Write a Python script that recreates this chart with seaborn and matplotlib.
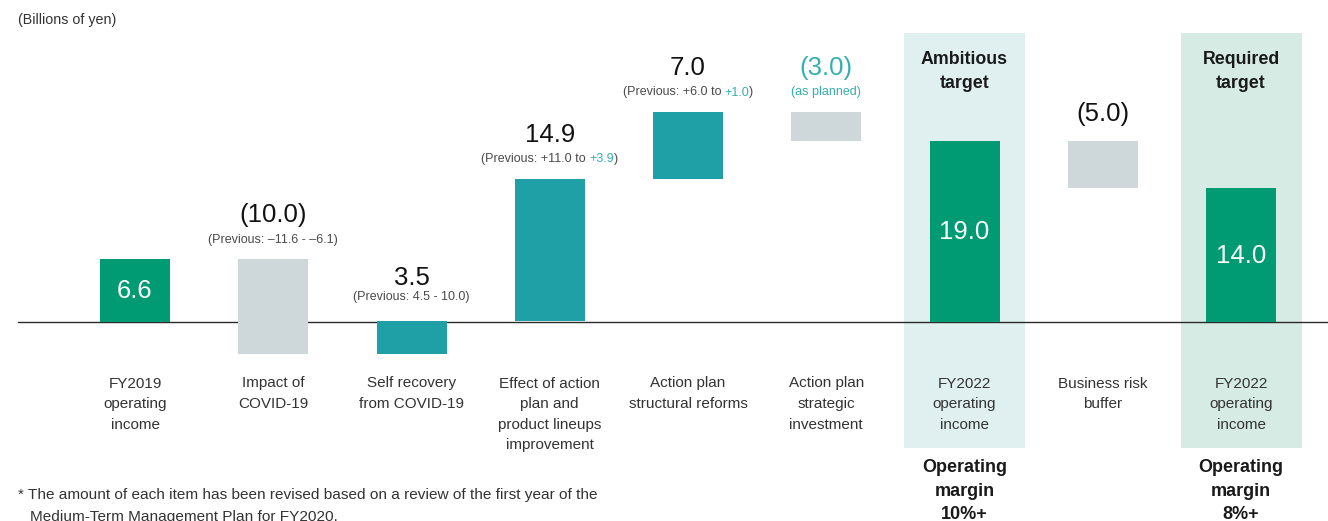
import matplotlib
matplotlib.use("Agg")
import matplotlib.pyplot as plt
import numpy as np
import pandas as pd
import seaborn as sns
from matplotlib.patches import Rectangle
from matplotlib.offsetbox import TextArea, HPacker, AnnotationBbox

# ---------------- data ----------------
steps = ["fy2019", "covid_impact", "self_recovery", "action_effect", "structural",
         "strategic", "fy2022_ambitious", "risk_buffer", "fy2022_required"]
step_labels = ["FY2019\noperating\nincome", "Impact of\nCOVID-19", "Self recovery\nfrom COVID-19",
               "Effect of action\nplan and\nproduct lineups\nimprovement",
               "Action plan\nstructural reforms", "Action plan\nstrategic\ninvestment",
               "FY2022\noperating\nincome", "Business risk\nbuffer", "FY2022\noperating\nincome"]
values = [6.6, -10.0, 3.5, 14.9, 7.0, -3.0, 19.0, -5.0, 14.0]
kinds = ["total", "minus", "plus", "plus", "plus", "minus", "total", "minus", "total"]
value_labels = ["6.6", "(10.0)", "3.5", "14.9", "7.0", "(3.0)", "19.0", "(5.0)", "14.0"]
value_label_teal = [False, False, False, False, False, True, False, False, False]
notes = [
    None,
    [("(Previous: \u201311.6 - \u20136.1)", "gray")],
    [("(Previous: 4.5 - 10.0)", "gray")],
    [("(Previous: +11.0 to ", "gray"), ("+3.9", "teal"), (")", "gray")],
    [("(Previous: +6.0 to ", "gray"), ("+1.0", "teal"), (")", "gray")],
    [("(as planned)", "teal")],
    None, None, None,
]
band_steps = ["fy2022_ambitious", "fy2022_required"]
band_titles = ["Ambitious\ntarget", "Required\ntarget"]
margin_texts = ["Operating\nmargin\n10%+", "Operating\nmargin\n8%+"]
unit_text = "(Billions of yen)"
footnote_lines = ["* The amount of each item has been revised based on a review of the first year of the",
                  "Medium-Term Management Plan for FY2020."]

# ---------------- style ----------------
colors = {"total": "#009B72", "plus": "#1FA0A6", "minus": "#CED7DA"}
band_colors = ["#E0F0F0", "#D6EBE4"]
text_colors = {"gray": "#4a4a4a", "teal": "#35AEB0"}

W, H = 1328, 521
PX_X0, PX_STEP = 135.0, 138.25
PX_Y0, PX_UNIT = 322.0, 9.55
PT = 0.72  # points per pixel at 100 dpi


def px2x(px):
    return (px - PX_X0) / PX_STEP


def py2v(py):
    return (PX_Y0 - py) / PX_UNIT


# waterfall geometry from values
bottoms, heights = [], []
run = 0.0
for v, k in zip(values, kinds):
    if k == "total":
        bottoms.append(0.0)
        heights.append(v)
        run = v
    else:
        new = run + v
        bottoms.append(min(run, new))
        heights.append(abs(v))
        run = new

sns.set_theme(style="white")
plt.rcParams["font.family"] = ["Liberation Sans", "DejaVu Sans"]

fig = plt.figure(figsize=(W / 100, H / 100), dpi=100)
ax = fig.add_axes([0, 0, 1, 1])

df = pd.DataFrame({"step": steps, "height": heights, "bottom": bottoms})
sns.barplot(data=df, x="step", y="height", order=steps, bottom=df["bottom"].to_numpy(),
            color=colors["plus"], width=70 / PX_STEP, errorbar=None, saturation=1,
            linewidth=0, ax=ax, zorder=2)
for patch, k in zip(ax.containers[0], kinds):
    patch.set_facecolor(colors[k])
    patch.set_edgecolor("none")

ax.set_xlim(px2x(0), px2x(W))
ax.set_ylim(py2v(H), py2v(0))
ax.set_axis_off()

# highlight bands
for s, bc, title, mt in zip(band_steps, band_colors, band_titles, margin_texts):
    i = steps.index(s)
    bw = 121 / PX_STEP
    ax.add_patch(Rectangle((i - bw / 2, py2v(448)), bw, py2v(33) - py2v(448),
                           facecolor=bc, edgecolor="none", zorder=0.5))
    ax.text(i, py2v(50.5), title, ha="center", va="top", fontsize=12.8,
            fontweight="bold", color="#1a1a1a", linespacing=1.6)
    ax.text(i, py2v(459), mt, ha="center", va="top", fontsize=13,
            fontweight="bold", color="#1a1a1a", linespacing=1.5)

# zero line
ax.axhline(0, xmin=18 / W, xmax=1, color="#2a2a2a", lw=1.0, zorder=1)

# value labels
for i, (b, h) in enumerate(zip(bottoms, heights)):
    top = b + h
    if kinds[i] == "total":
        ax.annotate(value_labels[i], xy=(i, b + h / 2), xytext=(0, -8 * PT),
                    textcoords="offset points", ha="center", va="baseline",
                    fontsize=18.5, color="white", zorder=3)
        continue
    main_off = 36.5 if notes[i] else 20
    col = text_colors["teal"] if value_label_teal[i] else "#111111"
    ax.annotate(value_labels[i], xy=(i, top), xytext=(0, main_off * PT),
                textcoords="offset points", ha="center", va="baseline",
                fontsize=18.5, color=col, zorder=3)
    if notes[i]:
        parts = [TextArea(t, textprops=dict(color=text_colors[c], fontsize=9))
                 for t, c in notes[i]]
        pack = HPacker(children=parts, pad=0, sep=0, align="baseline")
        sub_off = 21 if i == 2 else 16
        ab = AnnotationBbox(pack, (i, top), xybox=(0, (sub_off - 2.6) * PT),
                            xycoords="data", boxcoords="offset points",
                            box_alignment=(0.5, 0), frameon=False, zorder=3)
        ax.add_artist(ab)

# category labels
for i, lab in enumerate(step_labels):
    ax.text(i, py2v(376.5), lab, ha="center", va="top", fontsize=11,
            color="#333333", linespacing=1.6)

# unit and footnote
fig.text(18 / W, 1 - 13 / H, unit_text, ha="left", va="top", fontsize=10.3, color="#333333")
fig.text(18 / W, 1 - 488.5 / H, footnote_lines[0], ha="left", va="top", fontsize=11.1, color="#333333")
fig.text(30 / W, 1 - 510 / H, footnote_lines[1], ha="left", va="top", fontsize=11.1, color="#333333")

fig.savefig("out.png", dpi=100, facecolor="white")
